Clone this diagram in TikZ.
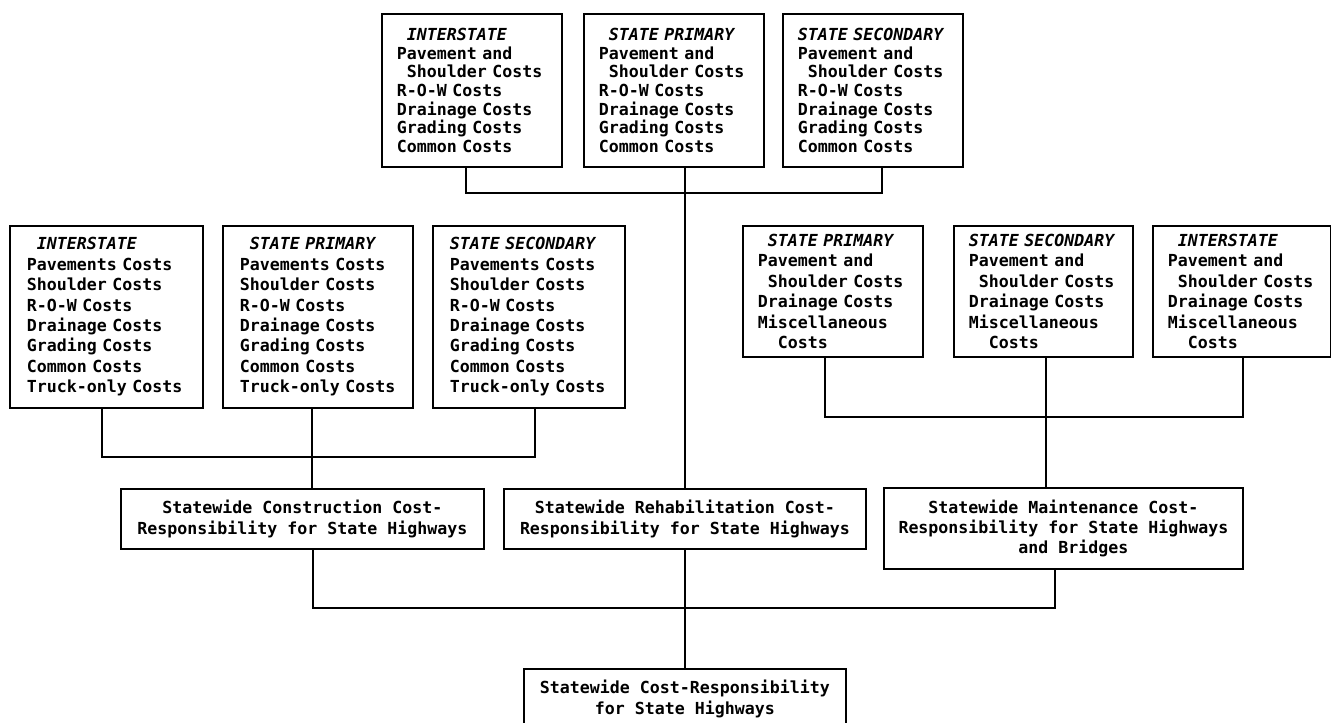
\documentclass[tikz,border=0pt]{standalone}
\usepackage{fontspec}
\newfontfamily\dotfont{DejaVu Sans Mono}[BoldFont={DejaVu Sans Mono Bold},BoldItalicFont={DejaVu Sans Mono Bold Oblique}]
\newcommand\ind{\hphantom{0}}
\newcommand\hd[1]{{\itshape #1}}
\begin{document}
\begin{tikzpicture}[x=1pt,y=-1pt,
  every node/.style={inner ysep=0pt},
  listbox/.style={draw,line width=1.8pt,anchor=north west,align=left,
    inner xsep=15pt,text width=#1-30pt,minimum width=#1},
  toplist/.style={listbox=#1,font=\dotfont\bfseries\fontsize{16.6}{18.6}\selectfont},
  midlist/.style={listbox=#1,font=\dotfont\bfseries\fontsize{16.6}{20.4}\selectfont},
  sumbox/.style={draw,line width=1.8pt,anchor=north west,align=center,
    font=\dotfont\bfseries\fontsize{16.6}{20.4}\selectfont},
  link/.style={line width=1.8pt}]
\clip (0,0) rectangle (1331,723);
\fill[white] (0,0) rectangle (1331,723);

% top row: rehabilitation cost categories
\node[toplist=180pt,minimum height=153pt] (t1) at (381,13)
  {\ind\hd{INTERSTATE}\\Pavement and\\\ind Shoulder Costs\\R-O-W Costs\\Drainage Costs\\Grading Costs\\Common Costs};
\node[toplist=180pt,minimum height=153pt] (t2) at (583,13)
  {\ind\hd{STATE PRIMARY}\\Pavement and\\\ind Shoulder Costs\\R-O-W Costs\\Drainage Costs\\Grading Costs\\Common Costs};
\node[toplist=180pt,minimum height=153pt] (t3) at (782,13)
  {\hd{STATE SECONDARY}\\Pavement and\\\ind Shoulder Costs\\R-O-W Costs\\Drainage Costs\\Grading Costs\\Common Costs};

% middle row, left: construction cost categories
\node[midlist=193pt,minimum height=182pt,inner xsep=17pt,text width=159pt] (l1) at (9,225)
  {\ind\hd{INTERSTATE}\\Pavements Costs\\Shoulder Costs\\R-O-W Costs\\Drainage Costs\\Grading Costs\\Common Costs\\Truck-only Costs};
\node[midlist=190pt,minimum height=182pt,inner xsep=17pt,text width=156pt] (l2) at (222,225)
  {\ind\hd{STATE PRIMARY}\\Pavements Costs\\Shoulder Costs\\R-O-W Costs\\Drainage Costs\\Grading Costs\\Common Costs\\Truck-only Costs};
\node[midlist=192pt,minimum height=182pt,inner xsep=17pt,text width=158pt] (l3) at (432,225)
  {\hd{STATE SECONDARY}\\Pavements Costs\\Shoulder Costs\\R-O-W Costs\\Drainage Costs\\Grading Costs\\Common Costs\\Truck-only Costs};

% middle row, right: maintenance cost categories
\node[midlist=180pt,minimum height=131pt] (r1) at (742,225)
  {\ind\hd{STATE PRIMARY}\\Pavement and\\\ind Shoulder Costs\\Drainage Costs\\Miscellaneous\\\ind\ind Costs};
\node[midlist=179pt,minimum height=131pt] (r2) at (953,225)
  {\hd{STATE SECONDARY}\\Pavement and\\\ind Shoulder Costs\\Drainage Costs\\Miscellaneous\\\ind\ind Costs};
\node[midlist=178pt,minimum height=131pt] (r3) at (1152,225)
  {\ind\hd{INTERSTATE}\\Pavement and\\\ind Shoulder Costs\\Drainage Costs\\Miscellaneous\\\ind\ind Costs};

% statewide summaries
\node[sumbox,minimum width=363pt,minimum height=60pt] (con) at (120,488)
  {Statewide Construction Cost-\\Responsibility for State Highways};
\node[sumbox,minimum width=362pt,minimum height=60pt] (reh) at (503,488)
  {Statewide Rehabilitation Cost-\\Responsibility for State Highways};
\node[sumbox,minimum width=359pt,minimum height=81pt] (mnt) at (883,487)
  {Statewide Maintenance Cost-\\Responsibility for State Highways\\\ind\ind and Bridges};
\node[sumbox,minimum width=322pt,minimum height=60pt] (tot) at (523,668)
  {Statewide Cost-Responsibility\\for State Highways};

% junction points of the connector trees
\coordinate (tj) at (684,193);
\coordinate (lj) at (311,457);
\coordinate (rj) at (1045,417);
\coordinate (bj) at (684,608);

\draw[link] ([xshift=-6pt]t1.south) |- (tj) -| ([xshift=9pt]t3.south);
\draw[link] ([xshift=11pt]t2.south) -- (reh.north);
\draw[link] ([xshift=-4.5pt]l1.south) |- (lj) -| ([xshift=6pt]l3.south);
\draw[link] ([xshift=-6pt]l2.south) -- ([xshift=9.5pt]con.north);
\draw[link] ([xshift=-8pt]r1.south) |- (rj) -| ([xshift=1pt]r3.south);
\draw[link] ([xshift=2.5pt]r2.south) -- ([xshift=-17.5pt]mnt.north);
\draw[link] ([xshift=10.5pt]con.south) |- (bj) -| ([xshift=-8.5pt]mnt.south);
\draw[link] (reh.south) -- (tot.north);
\end{tikzpicture}
\end{document}
